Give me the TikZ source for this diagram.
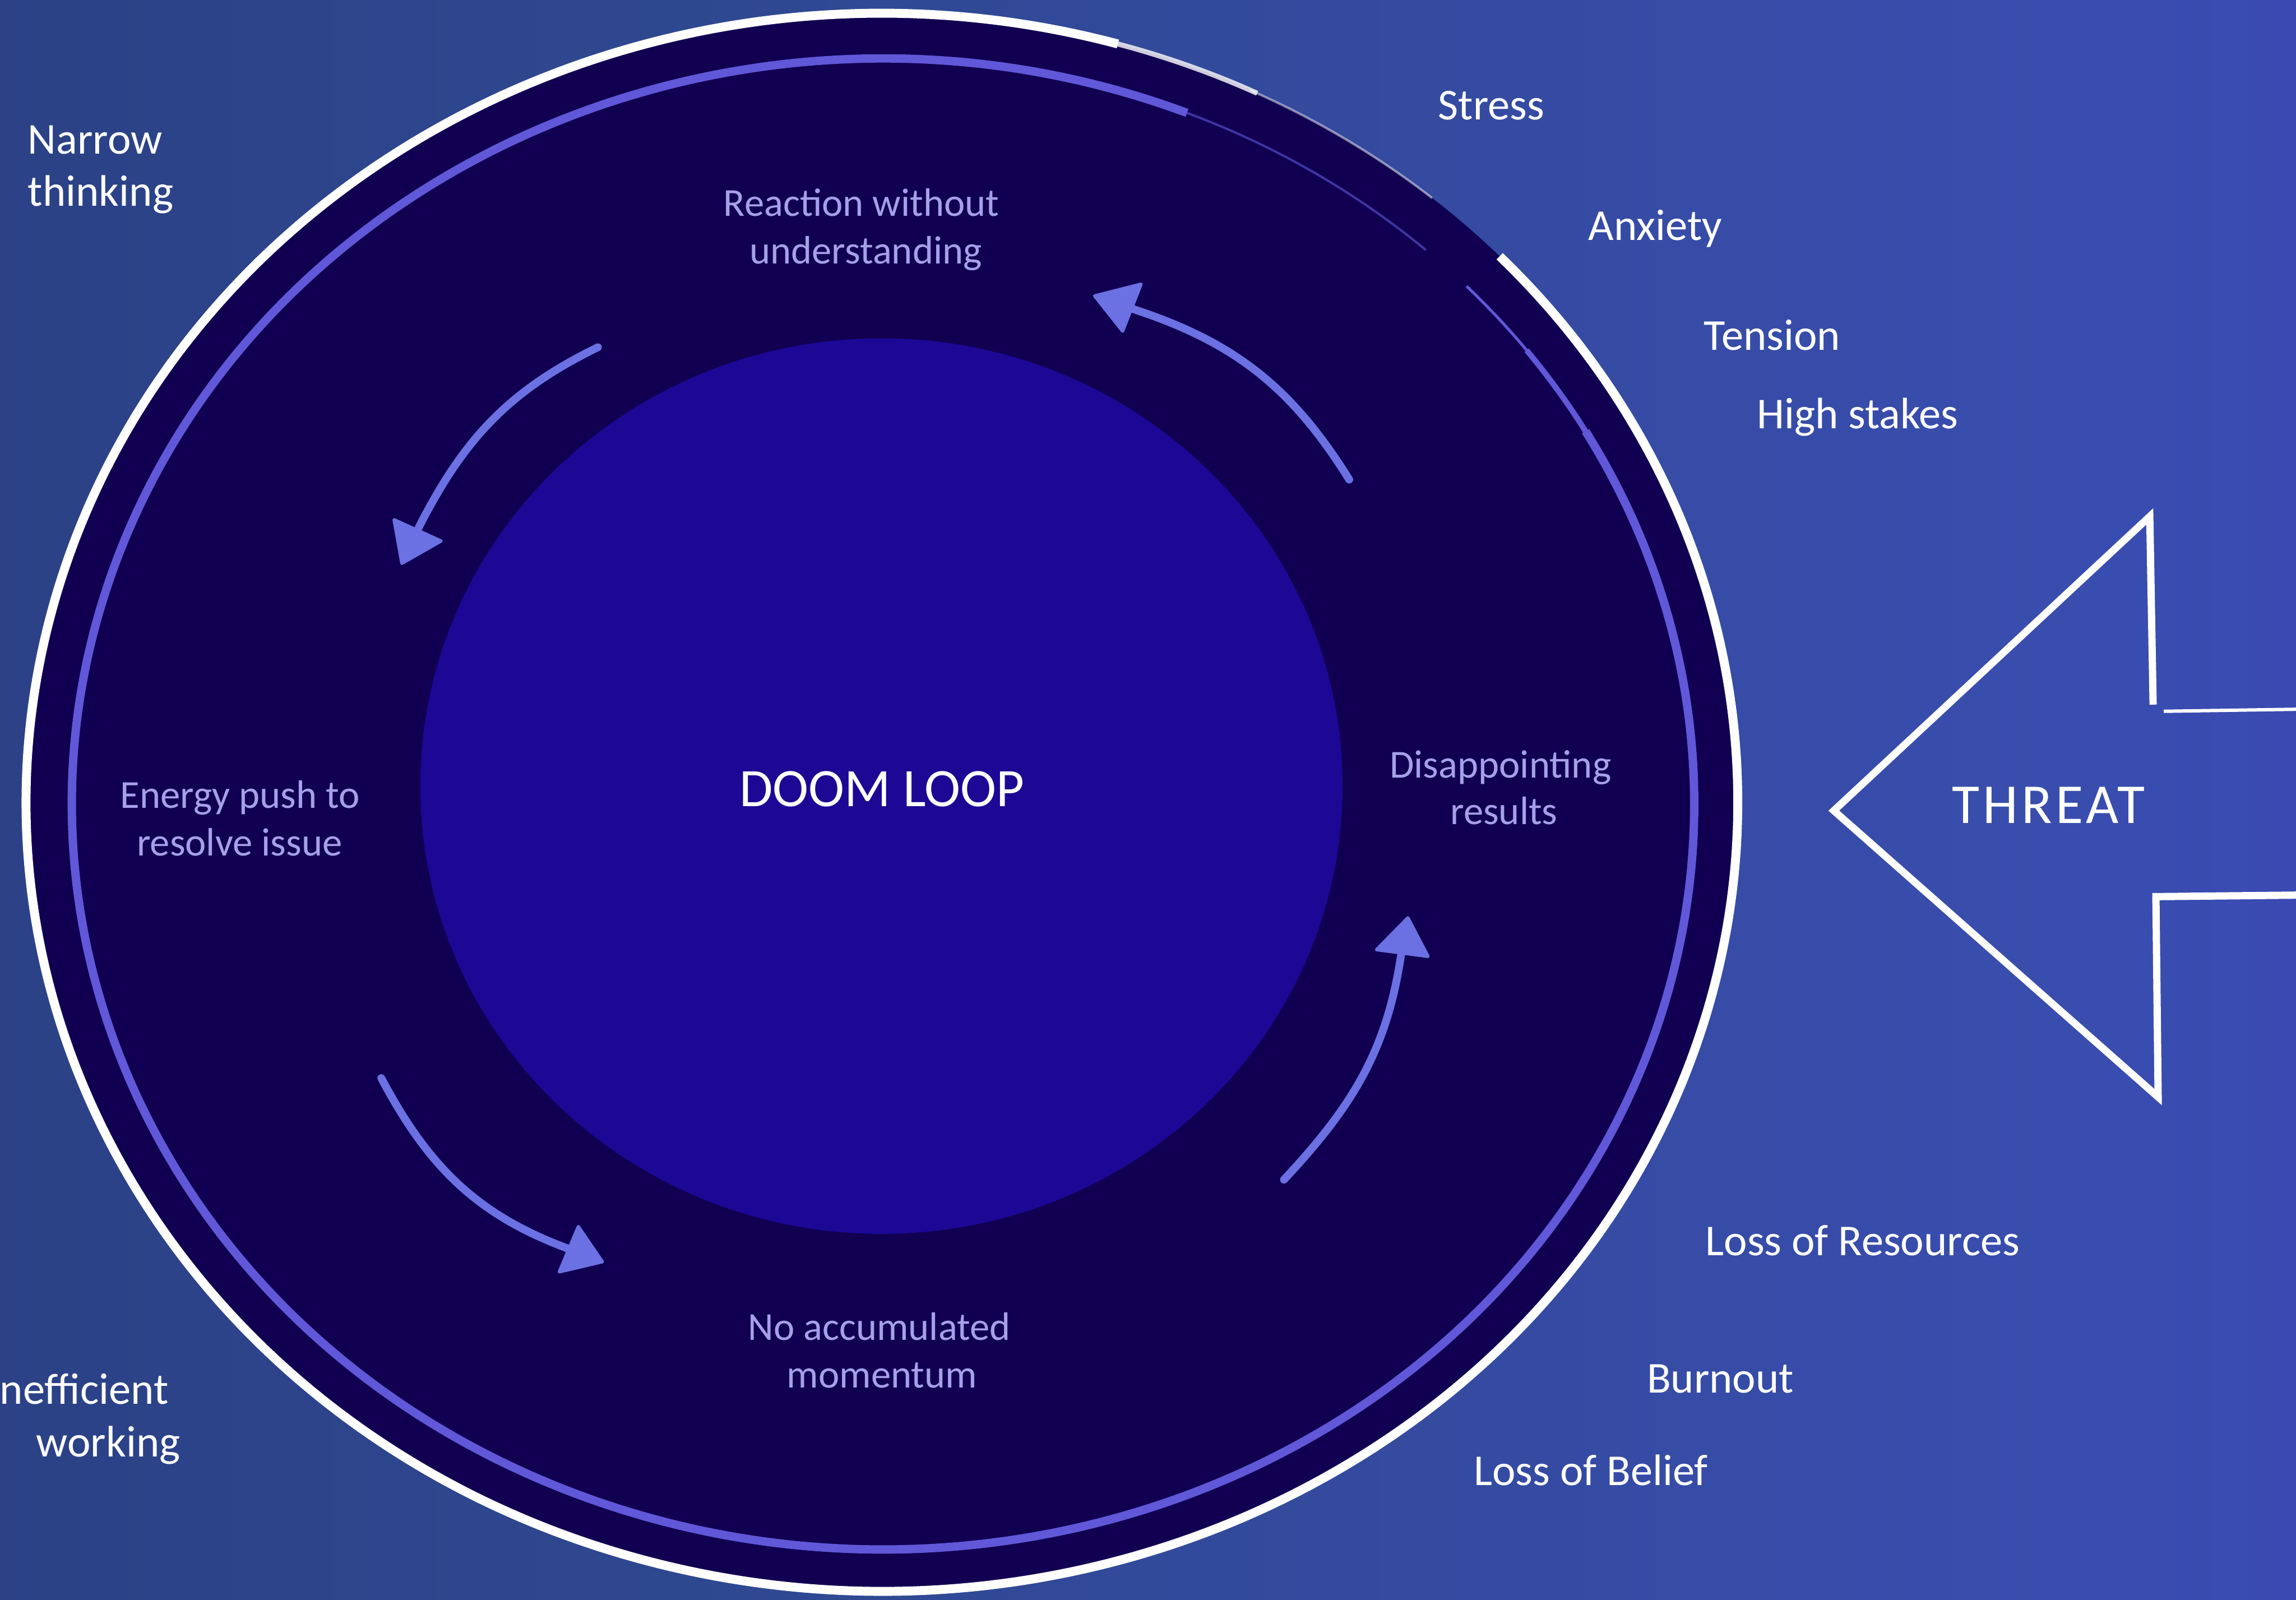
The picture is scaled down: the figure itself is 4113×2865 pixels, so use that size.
\documentclass[tikz,border=0pt]{standalone}
\usepackage{fontspec}
\setmainfont{Carlito}
\newfontfamily\threatfont[LetterSpace=6]{Carlito}
\definecolor{bgA}{RGB}{40,54,118}
\definecolor{bgB}{RGB}{46,72,144}
\definecolor{bgC}{RGB}{57,77,174}
\definecolor{bgD}{RGB}{62,58,198}
\definecolor{ringfill}{RGB}{17,0,82}
\definecolor{corefill}{RGB}{28,8,149}
\definecolor{ringline}{RGB}{96,88,216}
\definecolor{cycarrow}{RGB}{107,112,226}
\definecolor{ringtext}{RGB}{166,160,232}
\pgfdeclarehorizontalshading{bgshade}{100bp}{color(0bp)=(bgA); color(40bp)=(bgB); color(70bp)=(bgC); color(100bp)=(bgD)}
\tikzset{
  sidelabel/.style={text=white, font=\fontsize{79}{94}\selectfont, inner sep=0pt},
  ringlabel/.style={text=ringtext, font=\fontsize{71}{86}\selectfont, inner sep=0pt, anchor=base},
  cycshaft/.style={draw=cycarrow, line width=14pt, line cap=round},
  cychead/.style={fill=cycarrow, draw=cycarrow, line width=6pt, line join=round},
  whiteline/.style={draw=white, line width=16pt},
  lavline/.style={draw=ringline, line width=15pt},
  threatline/.style={draw=white, line width=13pt, line join=miter},
}
\begin{document}
\begin{tikzpicture}[x=1pt,y=1pt]
\useasboundingbox (0,0) rectangle (4113,-2865);
\clip (0,0) rectangle (4113,-2865);
% background
\shade[shading=bgshade] (0,0) rectangle (4113,-2865);
% outer ring
\coordinate (oc) at (1580,-1437);
\coordinate (lc) at (1582,-1440);
\fill[ringfill] (oc) ellipse [x radius=1533, y radius=1413];
\draw[whiteline] ([shift={(74:1533 and 1413)}]oc) arc[start angle=74, end angle=403.8, x radius=1533, y radius=1413];
\draw[draw=white, line width=9pt, opacity=0.8] ([shift={(64:1533 and 1413)}]oc) arc[start angle=64, end angle=74.5, x radius=1533, y radius=1413];
\draw[draw=white, line width=4pt, opacity=0.5] ([shift={(50:1533 and 1413)}]oc) arc[start angle=50, end angle=64.5, x radius=1533, y radius=1413];
% lavender ring
\draw[lavline] ([shift={(68:1453 and 1335)}]lc) arc[start angle=68, end angle=390, x radius=1453, y radius=1335];
\draw[draw=ringline, line width=10pt] ([shift={(30:1453 and 1335)}]lc) arc[start angle=30, end angle=37.5, x radius=1453, y radius=1335];
\draw[draw=ringline, line width=5pt] ([shift={(37:1453 and 1335)}]lc) arc[start angle=37, end angle=44, x radius=1453, y radius=1335];
\draw[draw=ringline, line width=4pt, opacity=0.6] ([shift={(48:1453 and 1335)}]lc) arc[start angle=48, end angle=68, x radius=1453, y radius=1335];
% core
\fill[corefill] (1579,-1408) ellipse [x radius=826, y radius=802];
% cycle arrows: shafts
\coordinate (t1) at (2417,-859); \coordinate (b1) at (2028,-553);
\coordinate (t2) at (1071,-622); \coordinate (b2) at (750,-945);
\coordinate (t3) at (683,-1931); \coordinate (b3) at (1022,-2238);
\coordinate (t4) at (2300,-2113); \coordinate (b4) at (2511,-1702);
\draw[cycshaft] (t1) to[out=122, in=-18] (b1);
\draw[cycshaft] (t2) to[out=206, in=63] (b2);
\draw[cycshaft] (t3) to[out=-62, in=160] (b3);
\draw[cycshaft] (t4) to[out=47, in=-98] (b4);
% cycle arrows: heads
\filldraw[cychead] (1961,-530) -- (2044,-509) -- (2011,-593) -- cycle;
\filldraw[cychead] (720,-1009) -- (706,-931) -- (790,-969) -- cycle;
\filldraw[cychead] (1079,-2260) -- (1036,-2197) -- (1002,-2278) -- cycle;
\filldraw[cychead] (2522,-1644) -- (2466,-1701) -- (2558,-1713) -- cycle;
% threat arrow
\draw[threatline] (3857,-1262) -- (3851,-925) -- (3285,-1452) -- (3866,-1965) -- (3862,-1606) -- (4140,-1603);
\draw[draw=white, line width=6pt] (3876,-1274) -- (4140,-1270);
% texts
\node[text=white, font=\fontsize{97}{116}\selectfont, inner sep=0pt, anchor=base] (doom) at (1580,-1444) {DOOM LOOP};
\node[text=white, font=\threatfont\fontsize{101}{120}\selectfont, inner sep=0pt, anchor=base] (threat) at (3670,-1475) {THREAT};
\node[ringlabel] (react1) at (1543,-387) {Reaction without};
\node[ringlabel] (react2) at (1551,-472) {understanding};
\node[ringlabel] (energy1) at (430,-1447) {Energy push to};
\node[ringlabel] (energy2) at (429,-1533) {resolve issue};
\node[ringlabel] (disap1) at (2688,-1393) {Disappointing};
\node[ringlabel] (disap2) at (2694,-1477) {results};
\node[ringlabel] (noacc1) at (1575,-2400) {No accumulated};
\node[ringlabel] (noacc2) at (1580,-2486) {momentum};
\node[sidelabel, anchor=base west] (narrow1) at (50,-276) {Narrow};
\node[sidelabel, anchor=base west] (narrow2) at (50,-369) {thinking};
\node[sidelabel, anchor=base east] (ineff1) at (302,-2515) {Inefficient};
\node[sidelabel, anchor=base west] (ineff2) at (65,-2609) {working};
\node[sidelabel, anchor=base west] (stress) at (2576,-214) {Stress};
\node[sidelabel, anchor=base west] (anxiety) at (2845,-430) {Anxiety};
\node[sidelabel, anchor=base west] (tension) at (3052,-627) {Tension};
\node[sidelabel, anchor=base west] (stakes) at (3147,-768) {High stakes};
\node[sidelabel, anchor=base west] (resources) at (3055,-2249) {Loss of Resources};
\node[sidelabel, anchor=base west] (burnout) at (2950,-2495) {Burnout};
\node[sidelabel, anchor=base west] (belief) at (2640,-2660) {Loss of Belief};
\end{tikzpicture}
\end{document}
